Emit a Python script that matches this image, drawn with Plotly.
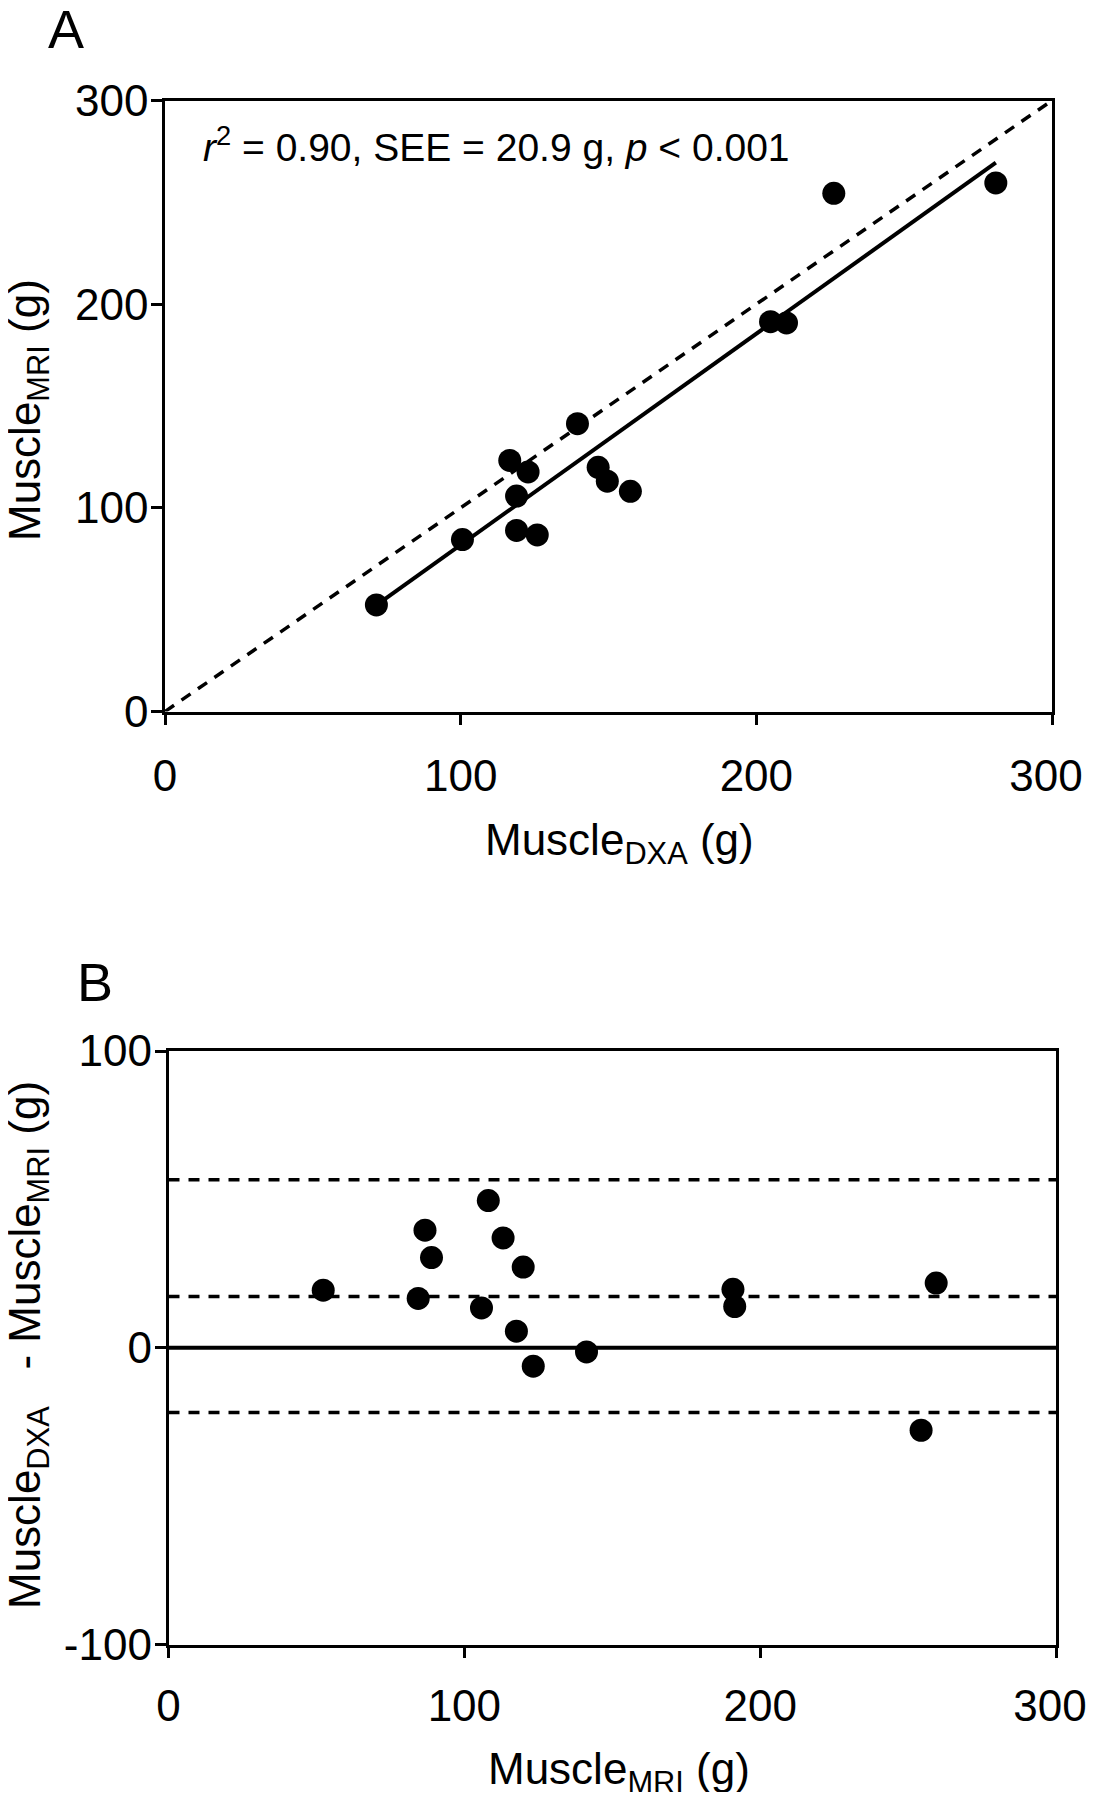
import plotly.graph_objects as go

# ---- data ----
muscle_dxa = [71.5, 100.6, 116.6, 122.8, 118.9, 118.9, 125.9, 139.5, 146.5, 149.6, 157.4, 204.8, 210.2, 226.2, 281.0]
muscle_mri = [52.3, 84.4, 123.3, 117.6, 105.8, 88.9, 86.7, 141.3, 119.9, 113.1, 108.1, 191.4, 190.8, 254.4, 259.5]
difference = [19.4, 16.6, -6.2, 5.6, 13.4, 30.4, 39.6, -1.4, 27.2, 37.0, 49.6, 13.9, 19.7, -27.8, 21.8]

fit_x = [71.5, 281.0]
fit_slope = 1.037
fit_intercept = -21.9

identity = [0, 300]
axis_range = [0, 300]
bias = 17.3
loa_upper = 56.6
loa_lower = -21.8

NB = "\u00a0"
x_ticks = [0, 100, 200, 300]
x_ticktext = ["0", "100", "200", "300" + NB]
yb_ticks = [-100, 0, 100]
yb_ticktext = ["-100", "0", "100"]

stats_text = "<i>r</i><sup>2</sup> = 0.90, SEE = 20.9 g, <i>p</i> < 0.001"

FONT = "Arial, 'Liberation Sans', Helvetica, sans-serif"
W, H = 1080, 1784      # fits inside the 1096x1800 window with the 8px body margin
OFF = 8                # body margin

def fx(px):
    return (px - OFF) / W

def fy(py):
    return 1 - (py - OFF) / H

fig = go.Figure()

# Panel A
fig.add_trace(go.Scatter(x=identity, y=identity, mode="lines",
                         line=dict(color="black", width=3.5, dash="11px,9px"),
                         xaxis="x", yaxis="y", showlegend=False))
fit_y = [fit_slope * v + fit_intercept for v in fit_x]
fig.add_trace(go.Scatter(x=fit_x, y=fit_y, mode="lines",
                         line=dict(color="black", width=4),
                         xaxis="x", yaxis="y", showlegend=False))
fig.add_trace(go.Scatter(x=muscle_dxa, y=muscle_mri, mode="markers",
                         marker=dict(color="black", size=23),
                         xaxis="x", yaxis="y", showlegend=False))

# Panel B
for val in [loa_upper, bias, loa_lower]:
    fig.add_trace(go.Scatter(x=axis_range, y=[val, val], mode="lines",
                             line=dict(color="black", width=3.5, dash="11px,9px"),
                             xaxis="x2", yaxis="y2", showlegend=False))
fig.add_trace(go.Scatter(x=axis_range, y=[0, 0], mode="lines",
                         line=dict(color="black", width=4),
                         xaxis="x2", yaxis="y2", showlegend=False))
fig.add_trace(go.Scatter(x=muscle_mri, y=difference, mode="markers",
                         marker=dict(color="black", size=23),
                         xaxis="x2", yaxis="y2", showlegend=False))

axis_common = dict(showline=True, linecolor="black", linewidth=2.5, mirror=True,
                   ticks="outside", ticklen=11, tickwidth=2.5, tickcolor="black",
                   showgrid=False, zeroline=False, automargin=False,
                   ticklabeloverflow="allow",
                   tickfont=dict(family=FONT, size=44, color="black"))

# target pixel boxes (page coordinates)
ax_l, ax_r, ay_t, ay_b = 165, 1052, 100.5, 711.5
bx_l, bx_r, by_t, by_b = 168.5, 1056, 1051, 1644.5

fig.update_layout(
    width=W, height=H,
    margin=dict(l=0, r=0, t=0, b=0, pad=0),
    paper_bgcolor="white", plot_bgcolor="white",
    font=dict(family=FONT, color="black"),
    xaxis=dict(domain=[fx(ax_l), fx(ax_r)], range=axis_range, anchor="y",
               tickvals=x_ticks, ticktext=x_ticktext, ticklabelstandoff=13, **axis_common),
    yaxis=dict(domain=[fy(ay_b), fy(ay_t)], range=axis_range, anchor="x",
               tickvals=x_ticks, ticklabelstandoff=-6, **axis_common),
    xaxis2=dict(domain=[fx(bx_l), fx(bx_r)], range=axis_range, anchor="y2",
                tickvals=x_ticks, ticktext=x_ticktext, ticklabelstandoff=10, **axis_common),
    yaxis2=dict(domain=[fy(by_b), fy(by_t)], range=[-100, 100], anchor="x2",
                tickvals=yb_ticks, ticktext=yb_ticktext, ticklabelstandoff=-6,
                **axis_common),
)

def label(text, px, py, size, xanchor="center", angle=0):
    return dict(text=text, x=fx(px), y=fy(py), xref="paper", yref="paper",
                xanchor=xanchor, yanchor="middle", showarrow=False, textangle=angle,
                font=dict(family=FONT, size=size, color="black"))

ann = [
    label("A", 46, 29, 54, xanchor="left"),
    label("B", 75, 982, 54, xanchor="left"),
    label(stats_text, 201, 144, 39, xanchor="left"),
    label("Muscle<sub>DXA</sub> (g)", 619, 843, 44),
    label("Muscle<sub>MRI</sub> (g)", 28, 410, 44, angle=-90),
    label("Muscle<sub>MRI</sub> (g)", 619, 1772, 44),
    label("Muscle<sub>DXA</sub>" + NB * 3 + "- Muscle<sub>MRI</sub> (g)", 28, 1345, 44, angle=-90),
]
fig.update_layout(annotations=ann)

fig.write_html("out.html")
